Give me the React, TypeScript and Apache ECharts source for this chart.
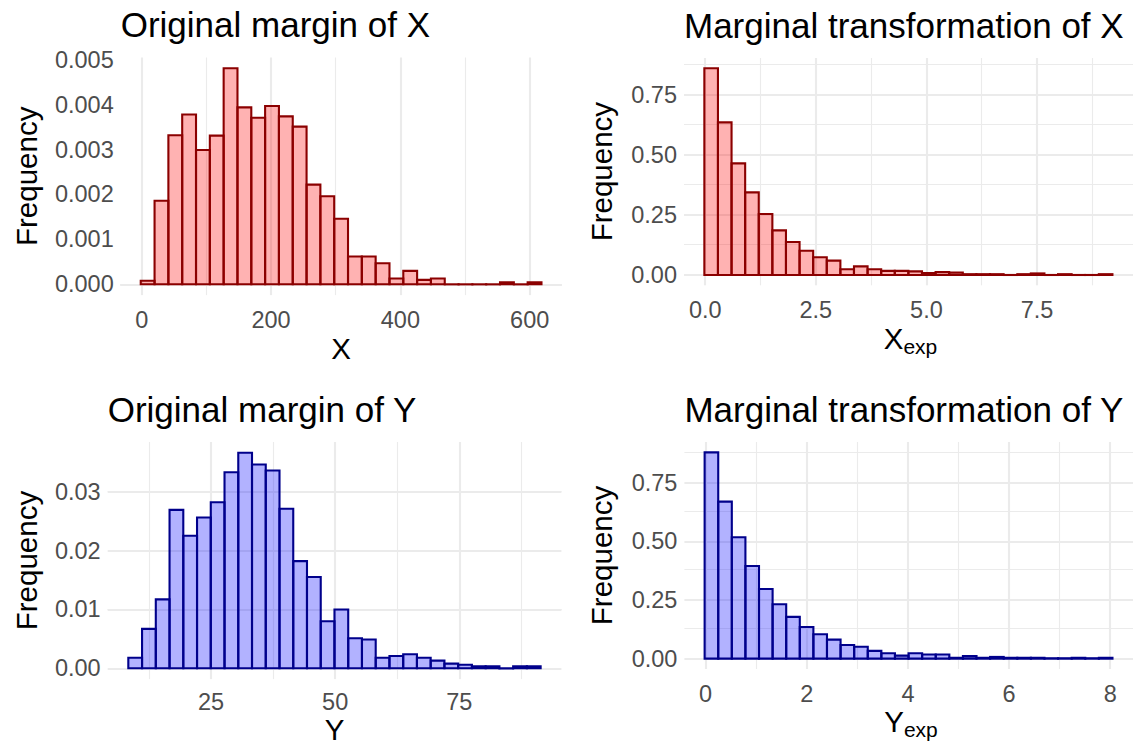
import React, { useEffect, useRef } from "react";
import * as echarts from "echarts";

const FONT = "'Liberation Sans', Arial, Helvetica, sans-serif";

// ---------- Panel 1: Original margin of X (density histogram, 29 bins) ----------
const xBinStart = -1.5;
const xBinWidth = 21.37;
const xDensity = [
  0.00008, 0.00186, 0.00332, 0.00378, 0.00299, 0.00331, 0.00481, 0.00394, 0.00371, 0.00397,
  0.00374, 0.00351, 0.00222, 0.00196, 0.00146, 0.00062, 0.00062, 0.00047, 0.00013, 0.0003,
  0.0001, 0.00013, 0, 0, 0, 0, 0.000047, 0, 0.000047,
];
const xXTicks = [0, 200, 400, 600];
const xXMinor = [100, 300, 500];
const xYTicks = [0, 0.001, 0.002, 0.003, 0.004, 0.005];
const xYMinor = [0.0005, 0.0015, 0.0025, 0.0035, 0.0045];

// ---------- Panel 2: Marginal transformation of X (30 bins) ----------
const xeBinStart = -0.02;
const xeBinWidth = 0.3075;
const xeDensity = [
  0.861, 0.636, 0.465, 0.344, 0.254, 0.186, 0.1375, 0.101, 0.074, 0.06,
  0.024, 0.036, 0.024, 0.017, 0.017, 0.015, 0.008, 0.012, 0.01, 0.0033,
  0.0033, 0.0033, 0, 0.0033, 0.0065, 0, 0.0033, 0, 0, 0.0033,
];
const xeXTicks = [0, 2.5, 5, 7.5];
const xeXMinor = [1.25, 3.75, 6.25, 8.75];
const xeYTicks = [0, 0.25, 0.5, 0.75];
const xeYMinor = [0.125, 0.375, 0.625, 0.875];

// ---------- Panel 3: Original margin of Y (30 bins) ----------
const yBinStart = 8.36;
const yBinWidth = 2.767;
const yDensity = [
  0.0018, 0.0067, 0.0117, 0.0269, 0.0225, 0.0256, 0.0282, 0.0333, 0.0366, 0.0346,
  0.0336, 0.0271, 0.0182, 0.0155, 0.008, 0.01, 0.0051, 0.0049, 0.0018, 0.0021,
  0.0024, 0.0018, 0.0013, 0.0008, 0.0006, 0.00036, 0.00036, 0, 0.00036, 0.00036,
];
const yXTicks = [25, 50, 75];
const yXMinor = [12.5, 37.5, 62.5, 87.5];
const yYTicks = [0, 0.01, 0.02, 0.03];
const yYMinor = [0.005, 0.015, 0.025, 0.035];

// ---------- Panel 4: Marginal transformation of Y (30 bins) ----------
const yeBinStart = -0.02;
const yeBinWidth = 0.2688;
const yeDensity = [
  0.879, 0.669, 0.517, 0.395, 0.297, 0.232, 0.178, 0.135, 0.104, 0.081,
  0.058, 0.051, 0.033, 0.023, 0.013, 0.023, 0.018, 0.018, 0.0037, 0.011,
  0.0037, 0.0074, 0.0037, 0.0037, 0.0037, 0.0018, 0.0018, 0.0037, 0.0018, 0.0037,
];
const yeXTicks = [0, 2, 4, 6, 8];
const yeXMinor = [1, 3, 5, 7];
const yeYTicks = [0, 0.25, 0.5, 0.75];
const yeYMinor = [0.125, 0.375, 0.625, 0.875];

const RED_FILL = "rgba(255,0,0,0.3)";
const RED_LINE = "#8B0000";
const BLUE_FILL = "rgba(0,0,255,0.3)";
const BLUE_LINE = "#00008B";

const TITLE_SIZE = 35;
const AXIS_TITLE_SIZE = 29.5;
const TICK_SIZE = 23.5;
const SUB_SIZE = 21;

type Panel = {
  title: string;
  xName: string;
  xSub?: string;
  start: number;
  width: number;
  dens: number[];
  xTicks: number[];
  xMinor: number[];
  yTicks: number[];
  yMinor: number[];
  xDigits: number;
  yDigits: number;
  xRange: [number, number];
  yRange: [number, number];
  grid: { left: number; top: number; width: number; height: number };
  fill: string;
  stroke: string;
  freqX: number;
  xTitleGap: number;
  xLabelMargin: number;
};

const panels: Panel[] = [
  {
    title: "Original margin of X", xName: "X",
    start: xBinStart, width: xBinWidth, dens: xDensity,
    xTicks: xXTicks, xMinor: xXMinor, yTicks: xYTicks, yMinor: xYMinor,
    xDigits: 0, yDigits: 3,
    xRange: [-32.5, 649.2], yRange: [-0.00024, 0.00505],
    grid: { left: 120.7, top: 57.5, width: 440.8, height: 237.6 },
    fill: RED_FILL, stroke: RED_LINE, freqX: 26, xTitleGap: 53.5, xLabelMargin: 13,
  },
  {
    title: "Marginal transformation of X", xName: "X", xSub: "exp",
    start: xeBinStart, width: xeBinWidth, dens: xeDensity,
    xTicks: xeXTicks, xMinor: xeXMinor, yTicks: xeYTicks, yMinor: xeYMinor,
    xDigits: 1, yDigits: 2,
    xRange: [-0.48, 9.67], yRange: [-0.043, 0.904],
    grid: { left: 684, top: 58, width: 453, height: 227.3 },
    fill: RED_FILL, stroke: RED_LINE, freqX: 601, xTitleGap: 53, xLabelMargin: 13,
  },
  {
    title: "Original margin of Y", xName: "Y",
    start: yBinStart, width: yBinWidth, dens: yDensity,
    xTicks: yXTicks, xMinor: yXMinor, yTicks: yYTicks, yMinor: yYMinor,
    xDigits: 0, yDigits: 2,
    xRange: [4.21, 95.55], yRange: [-0.00183, 0.03843],
    grid: { left: 107.7, top: 442, width: 453.7, height: 237.1 },
    fill: BLUE_FILL, stroke: BLUE_LINE, freqX: 26, xTitleGap: 50.4, xLabelMargin: 11,
  },
  {
    title: "Marginal transformation of Y", xName: "Y", xSub: "exp",
    start: yeBinStart, width: yeBinWidth, dens: yeDensity,
    xTicks: yeXTicks, xMinor: yeXMinor, yTicks: yeYTicks, yMinor: yeYMinor,
    xDigits: 0, yDigits: 2,
    xRange: [-0.42, 8.45], yRange: [-0.044, 0.923],
    grid: { left: 684.4, top: 442, width: 453.2, height: 227 },
    fill: BLUE_FILL, stroke: BLUE_LINE, freqX: 601, xTitleGap: 52, xLabelMargin: 13,
  },
];

const GRID_COLOR = "#EBEBEB";

function buildOption() {
  const grids: any[] = [];
  const xAxes: any[] = [];
  const yAxes: any[] = [];
  const series: any[] = [];
  const graphics: any[] = [];

  panels.forEach((p, i) => {
    grids.push({ ...p.grid, containLabel: false });
    xAxes.push({
      type: "value", gridIndex: i, min: p.xRange[0], max: p.xRange[1],
      axisLine: { show: false }, axisTick: { show: false, customValues: p.xTicks },
      splitLine: { show: false },
      axisLabel: {
        customValues: p.xTicks, margin: p.xLabelMargin, fontSize: TICK_SIZE, color: "#4D4D4D", fontFamily: FONT,
        formatter: (v: number) => Number(v).toFixed(p.xDigits),
      },
    });
    yAxes.push({
      type: "value", gridIndex: i, min: p.yRange[0], max: p.yRange[1],
      axisLine: { show: false }, axisTick: { show: false, customValues: p.yTicks },
      splitLine: { show: false },
      axisLabel: {
        customValues: p.yTicks, margin: 7, fontSize: TICK_SIZE, color: "#4D4D4D", fontFamily: FONT,
        formatter: (v: number) => Number(v).toFixed(p.yDigits),
      },
    });

    const minorStyle = { color: GRID_COLOR, width: 1.1, type: "solid" };
    const majorStyle = { color: GRID_COLOR, width: 2.1, type: "solid" };
    series.push({
      type: "line", xAxisIndex: i, yAxisIndex: i, data: [], z: 1, silent: true,
      markLine: {
        silent: true, z: 1, symbol: ["none", "none"], animation: false,
        label: { show: false }, emphasis: { disabled: true },
        lineStyle: majorStyle,
        data: [
          ...p.xMinor.map((v) => ({ xAxis: v, lineStyle: minorStyle })),
          ...p.yMinor.map((v) => ({ yAxis: v, lineStyle: minorStyle })),
          ...p.xTicks.map((v) => ({ xAxis: v, lineStyle: majorStyle })),
          ...p.yTicks.map((v) => ({ yAxis: v, lineStyle: majorStyle })),
        ],
      },
    });

    const data = p.dens.map((d, k) => [p.start + k * p.width, p.start + (k + 1) * p.width, d]);
    series.push({
      type: "custom", xAxisIndex: i, yAxisIndex: i, z: 3, silent: true,
      encode: { x: [0, 1], y: 2 },
      data,
      renderItem: (params: any, api: any) => {
        const x0 = api.value(0), x1 = api.value(1), h = api.value(2);
        const tl = api.coord([x0, h]);
        const br = api.coord([x1, 0]);
        return {
          type: "rect",
          shape: { x: tl[0], y: tl[1], width: br[0] - tl[0], height: Math.max(br[1] - tl[1], 0.01) },
          style: { fill: p.fill, stroke: p.stroke, lineWidth: 2.1, lineJoin: "miter" },
        };
      },
    });

    const g = p.grid;
    graphics.push({
      type: "text", x: g.left, y: g.top - 33,
      style: { text: p.title, fontSize: TITLE_SIZE, fontFamily: FONT, fill: "#000", align: "left", verticalAlign: "middle" },
    });
    graphics.push({
      type: "text", x: p.freqX, y: g.top + g.height / 2, rotation: Math.PI / 2,
      style: { text: "Frequency", fontSize: AXIS_TITLE_SIZE, fontFamily: FONT, fill: "#000", align: "center", verticalAlign: "middle" },
    });
    const cx = g.left + g.width / 2;
    const cy = g.top + g.height + p.xTitleGap;
    if (p.xSub) {
      const wMain = 0.667 * AXIS_TITLE_SIZE;
      const wSub = 1.612 * SUB_SIZE;
      const startX = cx - (wMain + wSub) / 2;
      graphics.push({
        type: "text", x: startX, y: cy,
        style: { text: p.xName, fontSize: AXIS_TITLE_SIZE, fontFamily: FONT, fill: "#000", align: "left", verticalAlign: "middle" },
      });
      graphics.push({
        type: "text", x: startX + wMain, y: cy + 8,
        style: { text: p.xSub, fontSize: SUB_SIZE, fontFamily: FONT, fill: "#000", align: "left", verticalAlign: "middle" },
      });
    } else {
      graphics.push({
        type: "text", x: cx, y: cy,
        style: { text: p.xName, fontSize: AXIS_TITLE_SIZE, fontFamily: FONT, fill: "#000", align: "center", verticalAlign: "middle" },
      });
    }
  });

  return {
    animation: false,
    backgroundColor: "#FFFFFF",
    grid: grids,
    xAxis: xAxes,
    yAxis: yAxes,
    series,
    graphic: { elements: graphics },
  };
}

export default function App() {
  const ref = useRef<HTMLDivElement>(null);
  useEffect(() => {
    if (!ref.current) return;
    const chart = echarts.init(ref.current, undefined, { renderer: "svg" });
    chart.setOption(buildOption() as any);
    return () => chart.dispose();
  }, []);
  return (
    <div
      ref={ref}
      style={{ position: "fixed", left: 0, top: 0, width: 1133, height: 746, background: "#fff" }}
    />
  );
}
